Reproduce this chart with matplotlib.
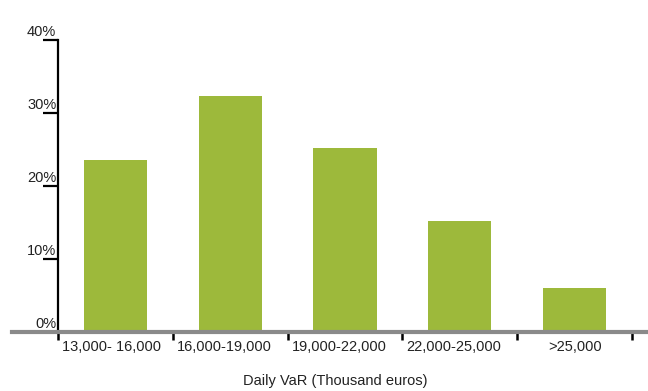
import matplotlib
matplotlib.use("Agg")
import matplotlib.pyplot as plt

plt.rcParams['font.family'] = ['Liberation Sans', 'DejaVu Sans']

ranges = ["13,000- 16,000", "16,000-19,000", "19,000-22,000", "22,000-25,000", ">25,000"]
share = [23.6, 32.3, 25.2, 15.2, 6.0]
y_ticks = [0, 10, 20, 30, 40]
y_labels = ["0%", "10%", "20%", "30%", "40%"]

green = "#9db93b"

fig = plt.figure(figsize=(6.48, 3.91), dpi=100)
ax = fig.add_axes([58 / 648, 1 - 332 / 391, 574 / 648, 292 / 391])

pos = list(range(len(ranges)))
ax.bar(pos, share, width=0.55, color=green, zorder=2)

ax.set_xlim(-0.5, len(ranges) - 0.5)
ax.set_ylim(0, 40)

for s in ["top", "right", "bottom"]:
    ax.spines[s].set_visible(False)
ax.spines["left"].set_linewidth(1.6)
ax.spines["left"].set_color("black")

# grey baseline runs past both ends of the plot
ax.axhline(0, xmin=-0.08, xmax=1.03, color="#8a8a8a", lw=3, clip_on=False, zorder=3)

# y ticks: long outward marks with the label sitting on top of them
ax.set_yticks(y_ticks)
ax.set_yticklabels([])
ax.tick_params(axis="y", length=11, width=1.6, direction="out", color="black")
for v, lab in zip(y_ticks, y_labels):
    ax.text(-0.003, v + 0.2, lab, transform=ax.get_yaxis_transform(),
            ha="right", va="bottom", fontsize=10.5, color="#222222")

# x ticks at the bin boundaries, labels left-aligned after each tick
ax.set_xticks([p - 0.5 for p in pos] + [len(ranges) - 0.5])
ax.set_xticklabels([])
ax.tick_params(axis="x", length=6, width=1.8, direction="out", color="black", pad=0)
for p, lab in zip(pos, ranges):
    if lab.startswith(">"):
        ax.text(p, -1.1, lab, ha="center", va="top", fontsize=10.5, color="#222222")
    else:
        ax.text(p - 0.465, -1.1, lab, ha="left", va="top", fontsize=10.5, color="#222222")

fig.text(335 / 648, 1 - 381 / 391, "Daily VaR (Thousand euros)", ha="center", va="center",
         fontsize=10.5, color="#222222")

fig.savefig("out.png", dpi=100)
